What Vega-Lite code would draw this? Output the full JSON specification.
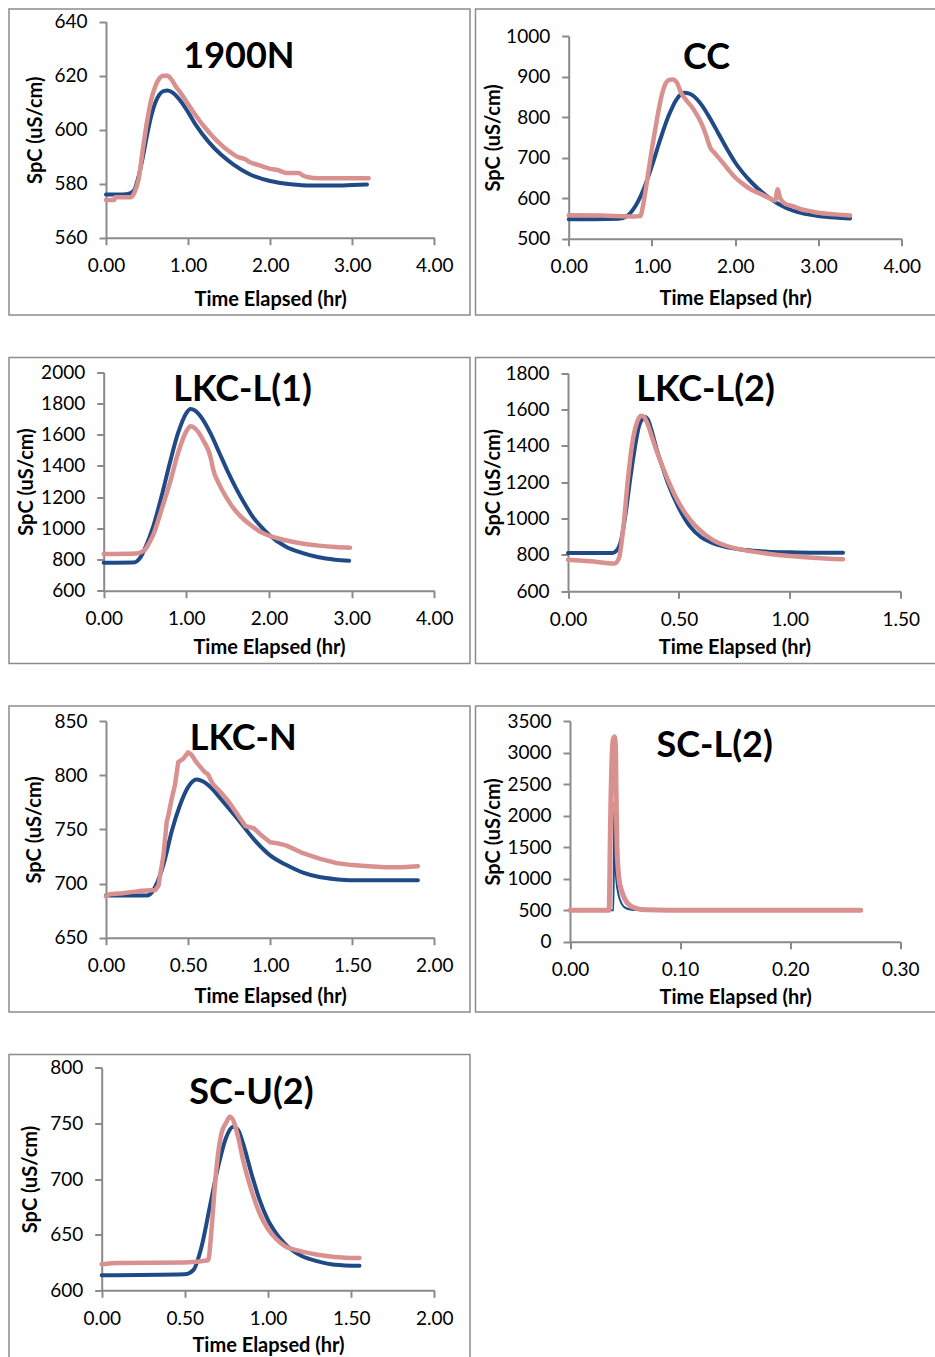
{
  "$schema": "https://vega.github.io/schema/vega-lite/v6.json",
  "padding": {"left": 8, "top": 8, "right": 0, "bottom": 0},
  "config": {
    "font": "Lato",
    "view": {"stroke": "#8c8c8c", "strokeWidth": 1.5},
    "axis": {"grid": false, "domainColor": "#8a8a8a", "domainWidth": 2, "tickColor": "#8a8a8a", "tickWidth": 2, "tickSize": 7,
             "labelFont": "Lato", "labelFontSize": 19, "labelColor": "#000000", "labelPadding": 12, "labelFlush": false, "labelOverlap": false,
             "titleFont": "Lato", "titleFontSize": 20, "titleFontWeight": "bold", "titleColor": "#000000"},
    "axisY": {"titleBaseline": "middle", "format": "d"},
    "line": {"strokeWidth": 4, "strokeCap": "round", "strokeJoin": "round", "interpolate": "monotone"},
    "text": {"fontSize": 36, "fontWeight": "bold", "baseline": "alphabetic", "align": "center", "color": "#000000"}
  },
  "datasets": {
    "d1900N": [
      {"s":"Model","t":0,"v":576},{"s":"Model","t":0.1,"v":576},{"s":"Model","t":0.2,"v":576},{"s":"Model","t":0.3,"v":576.5},{"s":"Model","t":0.35,"v":578},{"s":"Model","t":0.4,"v":583},{"s":"Model","t":0.45,"v":590},{"s":"Model","t":0.5,"v":598},{"s":"Model","t":0.55,"v":605},{"s":"Model","t":0.6,"v":610},{"s":"Model","t":0.65,"v":613},{"s":"Model","t":0.7,"v":614.3},{"s":"Model","t":0.75,"v":614.5},{"s":"Model","t":0.8,"v":614},{"s":"Model","t":0.9,"v":611},{"s":"Model","t":1.0,"v":606.5},{"s":"Model","t":1.1,"v":601.5},{"s":"Model","t":1.25,"v":595.5},{"s":"Model","t":1.4,"v":590.8},{"s":"Model","t":1.55,"v":587.2},{"s":"Model","t":1.75,"v":583.5},{"s":"Model","t":2.0,"v":581},{"s":"Model","t":2.25,"v":579.8},{"s":"Model","t":2.5,"v":579.3},{"s":"Model","t":2.75,"v":579.3},{"s":"Model","t":3.0,"v":579.5},{"s":"Model","t":3.18,"v":579.7},
      {"s":"Observed","t":0,"v":574},{"s":"Observed","t":0.1,"v":574},{"s":"Observed","t":0.11,"v":575},{"s":"Observed","t":0.3,"v":575},{"s":"Observed","t":0.35,"v":577},{"s":"Observed","t":0.4,"v":582},{"s":"Observed","t":0.45,"v":593},{"s":"Observed","t":0.5,"v":603},{"s":"Observed","t":0.55,"v":611},{"s":"Observed","t":0.6,"v":616},{"s":"Observed","t":0.65,"v":619},{"s":"Observed","t":0.7,"v":620},{"s":"Observed","t":0.75,"v":620},{"s":"Observed","t":0.8,"v":618.5},{"s":"Observed","t":0.85,"v":616},{"s":"Observed","t":0.9,"v":614},{"s":"Observed","t":1.0,"v":609.5},{"s":"Observed","t":1.1,"v":605},{"s":"Observed","t":1.2,"v":601},{"s":"Observed","t":1.3,"v":597.5},{"s":"Observed","t":1.4,"v":594.5},{"s":"Observed","t":1.5,"v":592},{"s":"Observed","t":1.6,"v":590},{"s":"Observed","t":1.7,"v":589},{"s":"Observed","t":1.75,"v":588},{"s":"Observed","t":1.85,"v":587},{"s":"Observed","t":1.9,"v":586.5},{"s":"Observed","t":2.0,"v":585.5},{"s":"Observed","t":2.1,"v":585},{"s":"Observed","t":2.2,"v":584},{"s":"Observed","t":2.35,"v":584},{"s":"Observed","t":2.4,"v":583},{"s":"Observed","t":2.45,"v":582.5},{"s":"Observed","t":2.6,"v":582},{"s":"Observed","t":3.0,"v":582},{"s":"Observed","t":3.2,"v":582}
    ],
    "dCC": [
      {"s":"Model","t":0,"v":548},{"s":"Model","t":0.3,"v":548},{"s":"Model","t":0.6,"v":549},{"s":"Model","t":0.7,"v":556},{"s":"Model","t":0.8,"v":580},{"s":"Model","t":0.9,"v":622},{"s":"Model","t":1.0,"v":680},{"s":"Model","t":1.1,"v":745},{"s":"Model","t":1.2,"v":803},{"s":"Model","t":1.3,"v":845},{"s":"Model","t":1.38,"v":860},{"s":"Model","t":1.45,"v":858},{"s":"Model","t":1.5,"v":852},{"s":"Model","t":1.6,"v":829},{"s":"Model","t":1.7,"v":796},{"s":"Model","t":1.8,"v":759},{"s":"Model","t":1.9,"v":722},{"s":"Model","t":2.0,"v":688},{"s":"Model","t":2.2,"v":638},{"s":"Model","t":2.4,"v":602},{"s":"Model","t":2.6,"v":577},{"s":"Model","t":2.8,"v":563},{"s":"Model","t":3.0,"v":556},{"s":"Model","t":3.2,"v":552},{"s":"Model","t":3.38,"v":550},
      {"s":"Observed","t":0,"v":558},{"s":"Observed","t":0.4,"v":557},{"s":"Observed","t":0.8,"v":555},{"s":"Observed","t":0.86,"v":556},{"s":"Observed","t":0.9,"v":590},{"s":"Observed","t":0.95,"v":655},{"s":"Observed","t":1.0,"v":722},{"s":"Observed","t":1.05,"v":782},{"s":"Observed","t":1.1,"v":838},{"s":"Observed","t":1.15,"v":876},{"s":"Observed","t":1.2,"v":891},{"s":"Observed","t":1.25,"v":893},{"s":"Observed","t":1.3,"v":885},{"s":"Observed","t":1.35,"v":860},{"s":"Observed","t":1.4,"v":845},{"s":"Observed","t":1.5,"v":819},{"s":"Observed","t":1.6,"v":782},{"s":"Observed","t":1.65,"v":755},{"s":"Observed","t":1.7,"v":725},{"s":"Observed","t":1.75,"v":712},{"s":"Observed","t":1.8,"v":700},{"s":"Observed","t":1.9,"v":675},{"s":"Observed","t":2.0,"v":651},{"s":"Observed","t":2.1,"v":634},{"s":"Observed","t":2.2,"v":620},{"s":"Observed","t":2.3,"v":611},{"s":"Observed","t":2.4,"v":601},{"s":"Observed","t":2.48,"v":594},{"s":"Observed","t":2.51,"v":622},{"s":"Observed","t":2.54,"v":600},{"s":"Observed","t":2.6,"v":586},{"s":"Observed","t":2.7,"v":580},{"s":"Observed","t":2.8,"v":572},{"s":"Observed","t":2.9,"v":568},{"s":"Observed","t":3.0,"v":564},{"s":"Observed","t":3.2,"v":560},{"s":"Observed","t":3.38,"v":557}
    ],
    "dLKCL1": [
      {"s":"Model","t":0,"v":779},{"s":"Model","t":0.35,"v":780},{"s":"Model","t":0.4,"v":788},{"s":"Model","t":0.45,"v":818},{"s":"Model","t":0.5,"v":872},{"s":"Model","t":0.6,"v":1013},{"s":"Model","t":0.7,"v":1205},{"s":"Model","t":0.8,"v":1419},{"s":"Model","t":0.9,"v":1611},{"s":"Model","t":1.0,"v":1739},{"s":"Model","t":1.05,"v":1765},{"s":"Model","t":1.1,"v":1757},{"s":"Model","t":1.2,"v":1697},{"s":"Model","t":1.3,"v":1600},{"s":"Model","t":1.4,"v":1483},{"s":"Model","t":1.5,"v":1365},{"s":"Model","t":1.6,"v":1258},{"s":"Model","t":1.7,"v":1162},{"s":"Model","t":1.8,"v":1077},{"s":"Model","t":1.9,"v":1013},{"s":"Model","t":2.0,"v":959},{"s":"Model","t":2.2,"v":884},{"s":"Model","t":2.4,"v":842},{"s":"Model","t":2.6,"v":814},{"s":"Model","t":2.8,"v":799},{"s":"Model","t":2.97,"v":792},
      {"s":"Observed","t":0,"v":835},{"s":"Observed","t":0.4,"v":838},{"s":"Observed","t":0.45,"v":846},{"s":"Observed","t":0.5,"v":863},{"s":"Observed","t":0.55,"v":906},{"s":"Observed","t":0.6,"v":959},{"s":"Observed","t":0.7,"v":1120},{"s":"Observed","t":0.8,"v":1290},{"s":"Observed","t":0.9,"v":1483},{"s":"Observed","t":1.0,"v":1622},{"s":"Observed","t":1.05,"v":1654},{"s":"Observed","t":1.1,"v":1643},{"s":"Observed","t":1.2,"v":1568},{"s":"Observed","t":1.3,"v":1440},{"s":"Observed","t":1.32,"v":1387},{"s":"Observed","t":1.4,"v":1280},{"s":"Observed","t":1.5,"v":1184},{"s":"Observed","t":1.6,"v":1109},{"s":"Observed","t":1.7,"v":1055},{"s":"Observed","t":1.8,"v":1013},{"s":"Observed","t":1.9,"v":976},{"s":"Observed","t":2.0,"v":953},{"s":"Observed","t":2.2,"v":923},{"s":"Observed","t":2.4,"v":902},{"s":"Observed","t":2.6,"v":889},{"s":"Observed","t":2.8,"v":880},{"s":"Observed","t":2.98,"v":876}
    ],
    "dLKCL2": [
      {"s":"Model","t":0,"v":811},{"s":"Model","t":0.2,"v":811},{"s":"Model","t":0.22,"v":825},{"s":"Model","t":0.24,"v":884},{"s":"Model","t":0.26,"v":1030},{"s":"Model","t":0.28,"v":1214},{"s":"Model","t":0.3,"v":1379},{"s":"Model","t":0.32,"v":1507},{"s":"Model","t":0.34,"v":1553},{"s":"Model","t":0.35,"v":1558},{"s":"Model","t":0.36,"v":1544},{"s":"Model","t":0.38,"v":1470},{"s":"Model","t":0.4,"v":1379},{"s":"Model","t":0.42,"v":1305},{"s":"Model","t":0.45,"v":1196},{"s":"Model","t":0.5,"v":1058},{"s":"Model","t":0.55,"v":957},{"s":"Model","t":0.6,"v":897},{"s":"Model","t":0.65,"v":866},{"s":"Model","t":0.7,"v":847},{"s":"Model","t":0.8,"v":827},{"s":"Model","t":0.9,"v":818},{"s":"Model","t":1.0,"v":814},{"s":"Model","t":1.1,"v":812},{"s":"Model","t":1.24,"v":812},
      {"s":"Observed","t":0,"v":774},{"s":"Observed","t":0.1,"v":765},{"s":"Observed","t":0.21,"v":753},{"s":"Observed","t":0.23,"v":783},{"s":"Observed","t":0.25,"v":957},{"s":"Observed","t":0.27,"v":1214},{"s":"Observed","t":0.29,"v":1415},{"s":"Observed","t":0.31,"v":1525},{"s":"Observed","t":0.33,"v":1565},{"s":"Observed","t":0.34,"v":1562},{"s":"Observed","t":0.36,"v":1516},{"s":"Observed","t":0.38,"v":1443},{"s":"Observed","t":0.4,"v":1370},{"s":"Observed","t":0.42,"v":1305},{"s":"Observed","t":0.45,"v":1214},{"s":"Observed","t":0.5,"v":1086},{"s":"Observed","t":0.55,"v":994},{"s":"Observed","t":0.6,"v":930},{"s":"Observed","t":0.65,"v":884},{"s":"Observed","t":0.7,"v":856},{"s":"Observed","t":0.8,"v":825},{"s":"Observed","t":0.9,"v":807},{"s":"Observed","t":1.0,"v":794},{"s":"Observed","t":1.1,"v":785},{"s":"Observed","t":1.24,"v":776}
    ],
    "dLKCN": [
      {"s":"Model","t":0,"v":689},{"s":"Model","t":0.25,"v":689},{"s":"Model","t":0.28,"v":692},{"s":"Model","t":0.3,"v":697},{"s":"Model","t":0.33,"v":708},{"s":"Model","t":0.36,"v":723},{"s":"Model","t":0.4,"v":748},{"s":"Model","t":0.45,"v":772},{"s":"Model","t":0.5,"v":789},{"s":"Model","t":0.55,"v":796},{"s":"Model","t":0.58,"v":795},{"s":"Model","t":0.65,"v":787},{"s":"Model","t":0.7,"v":778},{"s":"Model","t":0.8,"v":760},{"s":"Model","t":0.9,"v":741},{"s":"Model","t":1.0,"v":726},{"s":"Model","t":1.1,"v":717},{"s":"Model","t":1.2,"v":710},{"s":"Model","t":1.3,"v":706},{"s":"Model","t":1.4,"v":704},{"s":"Model","t":1.5,"v":703},{"s":"Model","t":1.7,"v":703},{"s":"Model","t":1.9,"v":703},
      {"s":"Observed","t":0,"v":688},{"s":"Observed","t":0.02,"v":690},{"s":"Observed","t":0.1,"v":691},{"s":"Observed","t":0.2,"v":693},{"s":"Observed","t":0.3,"v":694},{"s":"Observed","t":0.32,"v":698},{"s":"Observed","t":0.33,"v":708},{"s":"Observed","t":0.35,"v":726},{"s":"Observed","t":0.37,"v":757},{"s":"Observed","t":0.38,"v":763},{"s":"Observed","t":0.4,"v":778},{"s":"Observed","t":0.42,"v":791},{"s":"Observed","t":0.44,"v":812},{"s":"Observed","t":0.47,"v":815},{"s":"Observed","t":0.5,"v":821},{"s":"Observed","t":0.52,"v":819},{"s":"Observed","t":0.55,"v":812},{"s":"Observed","t":0.6,"v":803},{"s":"Observed","t":0.62,"v":801},{"s":"Observed","t":0.65,"v":792},{"s":"Observed","t":0.7,"v":784},{"s":"Observed","t":0.75,"v":775},{"s":"Observed","t":0.8,"v":764},{"s":"Observed","t":0.85,"v":753},{"s":"Observed","t":0.9,"v":751},{"s":"Observed","t":0.95,"v":744},{"s":"Observed","t":1.0,"v":738},{"s":"Observed","t":1.05,"v":737},{"s":"Observed","t":1.1,"v":735},{"s":"Observed","t":1.2,"v":728},{"s":"Observed","t":1.3,"v":723},{"s":"Observed","t":1.4,"v":719},{"s":"Observed","t":1.5,"v":717},{"s":"Observed","t":1.6,"v":716},{"s":"Observed","t":1.7,"v":715},{"s":"Observed","t":1.8,"v":715},{"s":"Observed","t":1.9,"v":716}
    ],
    "dSCL2": [
      {"s":"Model","t":0,"v":500},{"s":"Model","t":0.0395,"v":500},{"s":"Model","t":0.0403,"v":2230},{"s":"Model","t":0.041,"v":1500},{"s":"Model","t":0.042,"v":1000},{"s":"Model","t":0.044,"v":750},{"s":"Model","t":0.047,"v":600},{"s":"Model","t":0.05,"v":540},{"s":"Model","t":0.055,"v":510},{"s":"Model","t":0.06,"v":502},{"s":"Model","t":0.264,"v":500},
      {"s":"Observed","t":0,"v":500},{"s":"Observed","t":0.0355,"v":500},{"s":"Observed","t":0.036,"v":900},{"s":"Observed","t":0.0365,"v":1600},{"s":"Observed","t":0.0372,"v":2300},{"s":"Observed","t":0.038,"v":2850},{"s":"Observed","t":0.039,"v":3180},{"s":"Observed","t":0.0403,"v":3250},{"s":"Observed","t":0.0413,"v":3100},{"s":"Observed","t":0.0418,"v":2500},{"s":"Observed","t":0.0422,"v":2000},{"s":"Observed","t":0.0427,"v":1500},{"s":"Observed","t":0.0445,"v":1000},{"s":"Observed","t":0.047,"v":800},{"s":"Observed","t":0.0497,"v":680},{"s":"Observed","t":0.054,"v":580},{"s":"Observed","t":0.06,"v":530},{"s":"Observed","t":0.069,"v":505},{"s":"Observed","t":0.09,"v":500},{"s":"Observed","t":0.264,"v":500}
    ],
    "dSCU2": [
      {"s":"Model","t":0,"v":613.5},{"s":"Model","t":0.5,"v":614.4},{"s":"Model","t":0.55,"v":618},{"s":"Model","t":0.6,"v":639},{"s":"Model","t":0.65,"v":675},{"s":"Model","t":0.7,"v":711},{"s":"Model","t":0.75,"v":738},{"s":"Model","t":0.79,"v":747},{"s":"Model","t":0.82,"v":744},{"s":"Model","t":0.85,"v":732},{"s":"Model","t":0.9,"v":705},{"s":"Model","t":0.95,"v":681},{"s":"Model","t":1.0,"v":663},{"s":"Model","t":1.05,"v":651},{"s":"Model","t":1.1,"v":642},{"s":"Model","t":1.2,"v":631},{"s":"Model","t":1.3,"v":626},{"s":"Model","t":1.4,"v":623},{"s":"Model","t":1.55,"v":622},
      {"s":"Observed","t":0,"v":623.4},{"s":"Observed","t":0.1,"v":624.5},{"s":"Observed","t":0.5,"v":625},{"s":"Observed","t":0.64,"v":627},{"s":"Observed","t":0.66,"v":654},{"s":"Observed","t":0.68,"v":693},{"s":"Observed","t":0.7,"v":723},{"s":"Observed","t":0.72,"v":741},{"s":"Observed","t":0.75,"v":751},{"s":"Observed","t":0.77,"v":756},{"s":"Observed","t":0.79,"v":753},{"s":"Observed","t":0.82,"v":738},{"s":"Observed","t":0.85,"v":717},{"s":"Observed","t":0.9,"v":690},{"s":"Observed","t":0.95,"v":669},{"s":"Observed","t":1.0,"v":655},{"s":"Observed","t":1.05,"v":646},{"s":"Observed","t":1.1,"v":640},{"s":"Observed","t":1.2,"v":635},{"s":"Observed","t":1.3,"v":632},{"s":"Observed","t":1.4,"v":630},{"s":"Observed","t":1.55,"v":629}
    ]
  },
  "spacing": 40.5,
  "vconcat": [
    {"spacing": 3.5, "hconcat": [
      {"width": 461, "height": 306,
       "layer": [
         {"data": {"name": "d1900N"}, "transform": [{"filter": "datum.s === 'Model'"}], "mark": {"type": "line", "color": "#1F4A85"},
          "encoding": {
            "x": {"field": "t", "type": "quantitative", "scale": {"domain": [0, 4], "range": [97, 425.3], "nice": false, "zero": false},
                  "axis": {"values": [0, 1, 2, 3, 4], "format": ".2f", "offset": -77.3, "title": "Time Elapsed (hr)", "titleY": 51.5}},
            "y": {"field": "v", "type": "quantitative", "scale": {"domain": [560, 640], "range": [228.7, 12.7], "nice": false, "zero": false},
                  "axis": {"values": [560, 580, 600, 620, 640], "offset": -97, "title": "SpC (uS/cm)", "titleX": -71}}}},
         {"data": {"name": "d1900N"}, "transform": [{"filter": "datum.s === 'Observed'"}], "mark": {"type": "line", "color": "#D9918F", "strokeWidth": 4.5},
          "encoding": {"x": {"field": "t", "type": "quantitative"}, "y": {"field": "v", "type": "quantitative"}}},
         {"data": {"values": [{"label": "1900N"}]}, "mark": {"type": "text"},
          "encoding": {"x": {"datum": 1.62, "type": "quantitative"}, "y": {"datum": 623, "type": "quantitative"}, "text": {"field": "label", "type": "nominal"}}}
       ]},
      {"width": 461, "height": 306,
       "layer": [
         {"data": {"name": "dCC"}, "transform": [{"filter": "datum.s === 'Model'"}], "mark": {"type": "line", "color": "#1F4A85"},
          "encoding": {
            "x": {"field": "t", "type": "quantitative", "scale": {"domain": [0, 4], "range": [93.2, 426.2], "nice": false, "zero": false},
                  "axis": {"values": [0, 1, 2, 3, 4], "format": ".2f", "offset": -76.3, "title": "Time Elapsed (hr)", "titleY": 49.8}},
            "y": {"field": "v", "type": "quantitative", "scale": {"domain": [500, 1000], "range": [229.7, 27], "nice": false, "zero": false},
                  "axis": {"values": [500, 600, 700, 800, 900, 1000], "offset": -93.2, "title": "SpC (uS/cm)", "titleX": -75}}}},
         {"data": {"name": "dCC"}, "transform": [{"filter": "datum.s === 'Observed'"}], "mark": {"type": "line", "color": "#D9918F", "strokeWidth": 4.5},
          "encoding": {"x": {"field": "t", "type": "quantitative"}, "y": {"field": "v", "type": "quantitative"}}},
         {"data": {"values": [{"label": "CC"}]}, "mark": {"type": "text"},
          "encoding": {"x": {"datum": 1.655, "type": "quantitative"}, "y": {"datum": 918, "type": "quantitative"}, "text": {"field": "label", "type": "nominal"}}}
       ]}
    ]},
    {"spacing": 3.5, "hconcat": [
      {"width": 461, "height": 306,
       "layer": [
         {"data": {"name": "dLKCL1"}, "transform": [{"filter": "datum.s === 'Model'"}], "mark": {"type": "line", "color": "#1F4A85"},
          "encoding": {
            "x": {"field": "t", "type": "quantitative", "scale": {"domain": [0, 4], "range": [94.7, 425.3], "nice": false, "zero": false},
                  "axis": {"values": [0, 1, 2, 3, 4], "format": ".2f", "offset": -72.8, "title": "Time Elapsed (hr)", "titleY": 47}},
            "y": {"field": "v", "type": "quantitative", "scale": {"domain": [600, 2000], "range": [233.2, 14.8], "nice": false, "zero": false},
                  "axis": {"values": [600, 800, 1000, 1200, 1400, 1600, 1800, 2000], "offset": -94.7, "title": "SpC (uS/cm)", "titleX": -77}}}},
         {"data": {"name": "dLKCL1"}, "transform": [{"filter": "datum.s === 'Observed'"}], "mark": {"type": "line", "color": "#D9918F", "strokeWidth": 4.5},
          "encoding": {"x": {"field": "t", "type": "quantitative"}, "y": {"field": "v", "type": "quantitative"}}},
         {"data": {"values": [{"label": "LKC-L(1)"}]}, "mark": {"type": "text"},
          "encoding": {"x": {"datum": 1.68, "type": "quantitative"}, "y": {"datum": 1818, "type": "quantitative"}, "text": {"field": "label", "type": "nominal"}}}
       ]},
      {"width": 461, "height": 306,
       "layer": [
         {"data": {"name": "dLKCL2"}, "transform": [{"filter": "datum.s === 'Model'"}], "mark": {"type": "line", "color": "#1F4A85"},
          "encoding": {
            "x": {"field": "t", "type": "quantitative", "scale": {"domain": [0, 1.5], "range": [92.5, 425.2], "nice": false, "zero": false},
                  "axis": {"values": [0, 0.5, 1, 1.5], "format": ".2f", "offset": -72.2, "title": "Time Elapsed (hr)", "titleY": 46.4}},
            "y": {"field": "v", "type": "quantitative", "scale": {"domain": [600, 1800], "range": [233.8, 15.5], "nice": false, "zero": false},
                  "axis": {"values": [600, 800, 1000, 1200, 1400, 1600, 1800], "offset": -92.5, "title": "SpC (uS/cm)", "titleX": -74.5}}}},
         {"data": {"name": "dLKCL2"}, "transform": [{"filter": "datum.s === 'Observed'"}], "mark": {"type": "line", "color": "#D9918F", "strokeWidth": 4.5},
          "encoding": {"x": {"field": "t", "type": "quantitative"}, "y": {"field": "v", "type": "quantitative"}}},
         {"data": {"values": [{"label": "LKC-L(2)"}]}, "mark": {"type": "text"},
          "encoding": {"x": {"datum": 0.62, "type": "quantitative"}, "y": {"datum": 1648, "type": "quantitative"}, "text": {"field": "label", "type": "nominal"}}}
       ]}
    ]},
    {"spacing": 3.5, "hconcat": [
      {"width": 461, "height": 306,
       "layer": [
         {"data": {"name": "dLKCN"}, "transform": [{"filter": "datum.s === 'Model'"}], "mark": {"type": "line", "color": "#1F4A85"},
          "encoding": {
            "x": {"field": "t", "type": "quantitative", "scale": {"domain": [0, 2], "range": [97, 425.3], "nice": false, "zero": false},
                  "axis": {"values": [0, 0.5, 1, 1.5, 2], "format": ".2f", "offset": -74.3, "title": "Time Elapsed (hr)", "titleY": 49}},
            "y": {"field": "v", "type": "quantitative", "scale": {"domain": [650, 850], "range": [231.7, 15], "nice": false, "zero": false},
                  "axis": {"values": [650, 700, 750, 800, 850], "offset": -97, "title": "SpC (uS/cm)", "titleX": -71.7}}}},
         {"data": {"name": "dLKCN"}, "transform": [{"filter": "datum.s === 'Observed'"}], "mark": {"type": "line", "color": "#D9918F", "strokeWidth": 4.5, "interpolate": "linear"},
          "encoding": {"x": {"field": "t", "type": "quantitative"}, "y": {"field": "v", "type": "quantitative"}}},
         {"data": {"values": [{"label": "LKC-N"}]}, "mark": {"type": "text"},
          "encoding": {"x": {"datum": 0.836, "type": "quantitative"}, "y": {"datum": 823, "type": "quantitative"}, "text": {"field": "label", "type": "nominal"}}}
       ]},
      {"width": 461, "height": 306,
       "layer": [
         {"data": {"name": "dSCL2"}, "transform": [{"filter": "datum.s === 'Model'"}], "mark": {"type": "line", "color": "#1F4A85", "strokeWidth": 2},
          "encoding": {
            "x": {"field": "t", "type": "quantitative", "scale": {"domain": [0, 0.3], "range": [94.5, 424.8], "nice": false, "zero": false},
                  "axis": {"values": [0, 0.1, 0.2, 0.3], "format": ".2f", "offset": -70.3, "title": "Time Elapsed (hr)", "titleY": 45.7}},
            "y": {"field": "v", "type": "quantitative", "scale": {"domain": [0, 3500], "range": [235.7, 15], "nice": false, "zero": false},
                  "axis": {"values": [0, 500, 1000, 1500, 2000, 2500, 3000, 3500], "offset": -94.5, "title": "SpC (uS/cm)", "titleX": -77}}}},
         {"data": {"name": "dSCL2"}, "transform": [{"filter": "datum.s === 'Observed'"}], "mark": {"type": "line", "color": "#D9918F", "strokeWidth": 5},
          "encoding": {"x": {"field": "t", "type": "quantitative"}, "y": {"field": "v", "type": "quantitative"}}},
         {"data": {"values": [{"label": "SC-L(2)"}]}, "mark": {"type": "text"},
          "encoding": {"x": {"datum": 0.1314, "type": "quantitative"}, "y": {"datum": 2934, "type": "quantitative"}, "text": {"field": "label", "type": "nominal"}}}
       ]}
    ]},
    {"width": 461, "height": 306,
     "layer": [
       {"data": {"name": "dSCU2"}, "transform": [{"filter": "datum.s === 'Model'"}], "mark": {"type": "line", "color": "#1F4A85"},
        "encoding": {
          "x": {"field": "t", "type": "quantitative", "scale": {"domain": [0, 2], "range": [92.7, 425.3], "nice": false, "zero": false},
                "axis": {"values": [0, 0.5, 1, 1.5, 2], "format": ".2f", "offset": -70.2, "title": "Time Elapsed (hr)", "titleY": 44.7}},
          "y": {"field": "v", "type": "quantitative", "scale": {"domain": [600, 800], "range": [235.8, 13.2], "nice": false, "zero": false},
                "axis": {"values": [600, 650, 700, 750, 800], "offset": -92.7, "title": "SpC (uS/cm)", "titleX": -71.7}}}},
       {"data": {"name": "dSCU2"}, "transform": [{"filter": "datum.s === 'Observed'"}], "mark": {"type": "line", "color": "#D9918F", "strokeWidth": 4.5},
        "encoding": {"x": {"field": "t", "type": "quantitative"}, "y": {"field": "v", "type": "quantitative"}}},
       {"data": {"values": [{"label": "SC-U(2)"}]}, "mark": {"type": "text"},
        "encoding": {"x": {"datum": 0.9, "type": "quantitative"}, "y": {"datum": 767, "type": "quantitative"}, "text": {"field": "label", "type": "nominal"}}}
     ]}
  ]
}
